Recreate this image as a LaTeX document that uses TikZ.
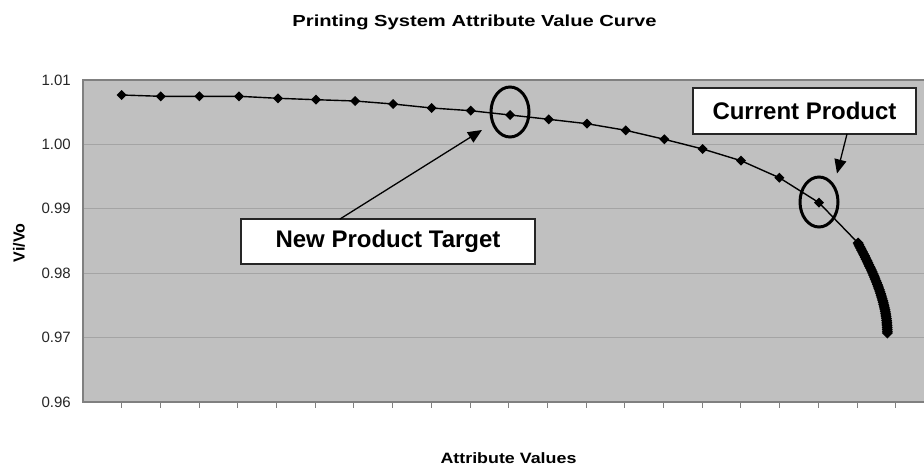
\documentclass[tikz,border=0pt]{standalone}
\usepackage{fontspec}
\setmainfont{Liberation Sans}
\usetikzlibrary{arrows.meta,shapes.geometric}
\definecolor{plotgray}{HTML}{C0C0C0}
\definecolor{framegray}{HTML}{808080}
\definecolor{gridgray}{HTML}{A4A4A4}
\definecolor{labelgray}{HTML}{262626}
\begin{document}
\begin{tikzpicture}[x=1pt,y=-1pt,
  ticklabel/.style={anchor=east,inner sep=0pt,text=labelgray,font=\fontsize{15}{15}\selectfont},
  callout/.style={draw=black!85,line width=1.8pt,fill=white,minimum height=45pt,inner sep=0pt,
                  font=\fontsize{24}{24}\selectfont\bfseries},
  ring/.style={ellipse,draw=black,line width=3pt,minimum width=38pt,minimum height=50pt,inner sep=0pt},
  pointer/.style={draw=black,line width=1.3pt,-{Triangle[length=14pt,width=12pt]}},
  curve/.style={draw=black,line width=1.4pt,line join=round}]
\useasboundingbox (0,0) rectangle (924,466);

% plot area
\fill[plotgray] (83,80) rectangle (926,402);
\foreach \yy in {144.4,208.8,273.2,337.6}
  \draw[gridgray,line width=1pt] (83,\yy) -- (926,\yy);
\draw[framegray,line width=1.6pt] (926,80) -- (83,80) -- (83,402) -- (926,402);
\foreach \k in {1,...,22}
  \draw[framegray,line width=0.9pt] ({83+38.7*\k},402) -- ({83+38.7*\k},408);

% value axis labels
\node[ticklabel] (t101) at (71,80)    {1.01};
\node[ticklabel] (t100) at (71,144.4) {1.00};
\node[ticklabel] (t099) at (71,208.8) {0.99};
\node[ticklabel] (t098) at (71,273.2) {0.98};
\node[ticklabel] (t097) at (71,337.6) {0.97};
\node[ticklabel] (t096) at (71,402)   {0.96};

% titles
\node[anchor=base,inner sep=0pt,font=\fontsize{16}{16}\selectfont\bfseries] (title) at (474.5,26.5)
  {\scalebox{1.26}[1]{Printing System Attribute Value Curve}};
\node[anchor=base,inner sep=0pt,font=\fontsize{15}{15}\selectfont\bfseries] (xlabel) at (508.5,463)
  {\scalebox{1.19}[1]{Attribute Values}};
\node[rotate=90,inner sep=0pt,font=\fontsize{16}{16}\selectfont\bfseries] (ylabel) at (19,243) {Vi/Vo};

% the value curve
\draw[curve] (121.7,95) -- (160.7,96.3) -- (199.3,96.3) -- (239,96.3) -- (278,98.3)
  -- (316,99.7) -- (355,101) -- (393,104) -- (431.7,108) -- (470.7,110.7)
  -- (510,115) -- (548.7,119.3) -- (587,123.7) -- (625.7,130.3) -- (664.3,139.3)
  -- (702.7,149) -- (741,160.7) -- (779.3,177.7) -- (819,202.7) -- (858,243)
  plot[domain=0:1,samples=30] ({858+29.3*sin(90*\x)},{243+90*\x});
\foreach \px/\py in {121.7/95,160.7/96.3,199.3/96.3,239/96.3,278/98.3,316/99.7,355/101,
                     393/104,431.7/108,470.7/110.7,510/115,548.7/119.3,587/123.7,
                     625.7/130.3,664.3/139.3,702.7/149,741/160.7,779.3/177.7,819/202.7}
  \fill[black] (\px,\py) +(-5,0) -- +(0,-5) -- +(5,0) -- +(0,5) -- cycle;
\foreach \s in {0,0.02,...,1.001}
  \fill[black] ({858+29.3*sin(90*\s)},{243+90*\s}) +(-5.5,0) -- +(0,-5.5) -- +(5.5,0) -- +(0,5.5) -- cycle;

% highlighted products
\node[ring] (newring) at (510,112) {};
\node[ring] (curring) at (819,202) {};

% callouts
\node[callout,minimum width=294pt] (newbox) at (388,241.5) {New Product Target};
\node[callout,minimum width=223pt,minimum height=46pt] (curbox) at (804.5,111) {Current Product};
\coordinate (newtail) at (340,219);
\coordinate (newtip) at (482,130);
\coordinate (curtail) at (847,134);
\coordinate (curtip) at (837,173.5);
\draw[pointer] (newtail) -- (newtip);
\draw[pointer] (curtail) -- (curtip);
\end{tikzpicture}
\end{document}
